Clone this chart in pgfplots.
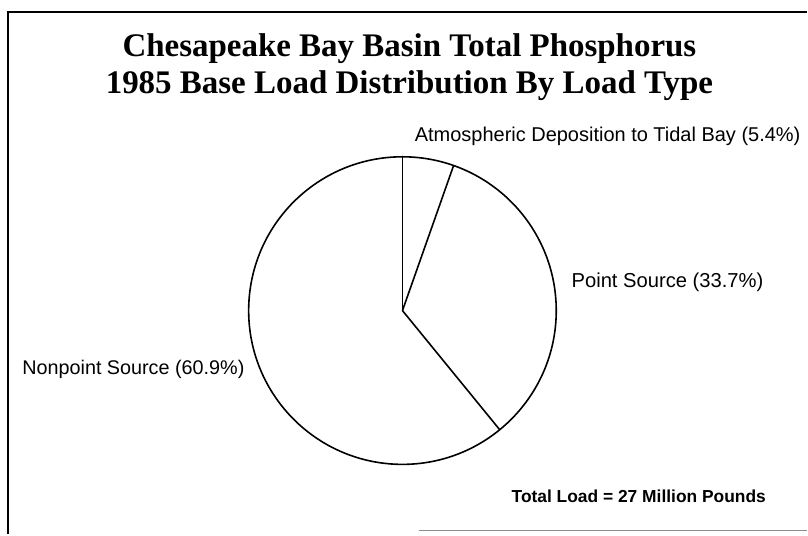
\documentclass[border=0pt]{standalone}
\usepackage{fontspec}
\setmainfont{Liberation Serif}
\newfontfamily\sans{Liberation Sans}
\usepackage{pgfplots}
\pgfplotsset{compat=1.18}

\begin{document}
\begin{tikzpicture}
% canvas in pixel units of the original page (808 x 535), y pointing down
\begin{axis}[
 x=0.5pt,y=0.5pt,y dir=reverse,
 xmin=0,xmax=808,ymin=0,ymax=535,
 hide axis,clip=false]
\path (axis cs:0,0) rectangle (axis cs:808,535);
% page frame
\draw[line width=1.1pt] (axis cs:8,535) -- (axis cs:8,12) -- (axis cs:808,12);
\draw[line width=0.6pt,black!45] (axis cs:420,531) -- (axis cs:808,531);
% title
\node[anchor=base,font=\bfseries\fontsize{16.5}{19}\selectfont] at (axis cs:410,57)
 {Chesapeake Bay Basin Total Phosphorus};
\node[anchor=base,font=\bfseries\fontsize{16.5}{19}\selectfont] at (axis cs:410,94)
 {1985 Base Load Distribution By Load Type};
% pie: centre (403,311), radius 154; wedge edges at 90, 70.56, -50.76 deg
% (5.4% + 33.7% + 60.9% clockwise from top)
\draw[line width=0.8pt] (axis cs:403,311) circle (77pt);
\addplot[black,line width=0.8pt] coordinates {(403,311) (403.0,157.0)};
\addplot[black,line width=0.8pt] coordinates {(403,311) (454.2,165.8)};
\addplot[black,line width=0.8pt] coordinates {(403,311) (500.4,430.3)};
% labels
\node[anchor=base west,font=\sans\fontsize{10}{12}\selectfont,inner sep=0pt] at (axis cs:415,142)
 {Atmospheric Deposition to Tidal Bay (5.4\%)};
\node[anchor=base west,font=\sans\fontsize{10.1}{12}\selectfont,inner sep=0pt] at (axis cs:572,288)
 {Point Source (33.7\%)};
\node[anchor=base west,font=\sans\fontsize{9.9}{12}\selectfont,inner sep=0pt] at (axis cs:22,375)
 {Nonpoint Source (60.9\%)};
\node[anchor=base west,font=\sans\bfseries\fontsize{8.7}{10}\selectfont,inner sep=0pt] at (axis cs:512,503)
 {Total Load = 27 Million Pounds};
\end{axis}
\end{tikzpicture}
\end{document}
